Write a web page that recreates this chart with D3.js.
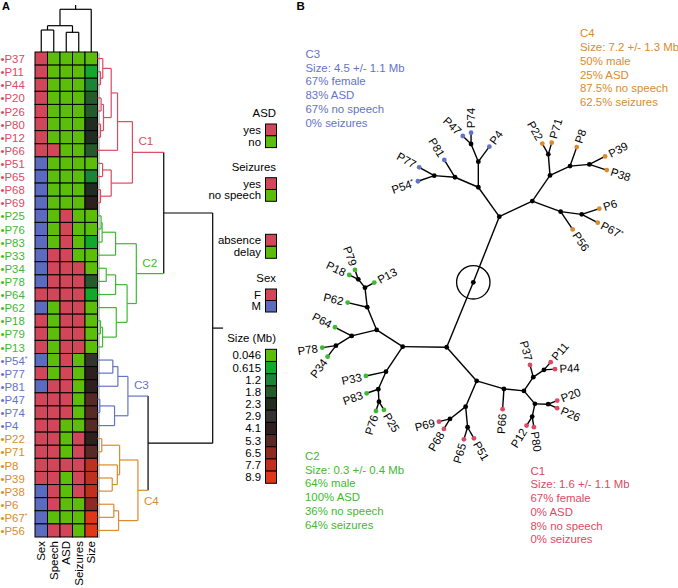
<!DOCTYPE html>
<html><head><meta charset="utf-8">
<script src="https://cdn.jsdelivr.net/npm/d3@7"></script>
<style>body{margin:0;background:#fff}svg{display:block}text{font-family:"Liberation Sans",Arial,Helvetica,sans-serif}</style>
</head><body><svg id="c" width="678" height="588"></svg>
<script>
// ---------------- DATA ----------------
const patients = ["P37","P11","P44","P20","P26","P80","P12","P66","P51","P65","P68","P69",
  "P25","P76","P83","P33","P34","P78","P64","P62","P18","P79","P13",
  "P54*","P77","P81","P47","P74","P4",
  "P22","P71","P8","P39","P38","P6","P67*","P56"];
const clusters = ["C1","C1","C1","C1","C1","C1","C1","C1","C1","C1","C1","C1",
  "C2","C2","C2","C2","C2","C2","C2","C2","C2","C2","C2",
  "C3","C3","C3","C3","C3","C3",
  "C4","C4","C4","C4","C4","C4","C4","C4"];
const sex = ["F","F","F","F","F","F","F","F","M","M","M","M",
  "M","M","M","M","M","M","F","M","F","F","F",
  "M","F","M","F","F","F",
  "F","F","F","F","M","M","M","M"];
const speech = ["delay","delay","delay","delay","delay","delay","delay","absence","delay","delay","delay","delay",
  "delay","delay","delay","absence","absence","absence","absence","delay","delay","delay","delay",
  "delay","delay","absence","absence","absence","absence",
  "absence","absence","absence","absence","absence","absence","delay","absence"];
const asd = ["no","no","no","no","no","no","no","no","no","no","no","no",
  "yes","yes","yes","yes","yes","yes","yes","yes","yes","yes","yes",
  "yes","yes","yes","yes","yes","no",
  "no","no","yes","no","no","no","no","yes"];
const seizures = ["no","no","no","no","no","no","no","no","no","no","no","no",
  "no","no","no","no","yes","yes","yes","yes","yes","yes","yes",
  "no","no","no","no","no","no",
  "yes","yes","yes","yes","yes","no","no","no"];
const sizeMb = [0.046,0.615,1.2,1.8,1.8,2.3,2.3,1.8,0.046,1.2,2.3,4.1,
  0.046,0.046,0.615,0.046,0.046,1.8,0.615,0.046,0.046,0.046,0.046,
  2.9,4.1,4.1,5.3,5.3,5.3,
  4.1,5.3,7.7,7.7,7.7,6.5,8.9,8.9];
const columns = ["Sex","Speech","ASD","Seizures","Size"];
const sizeTicks = [0.046,0.615,1.2,1.8,2.3,2.9,4.1,5.3,6.5,7.7,8.9];
const sizeColors = ["#5cbd0b","#12a82a","#1c8434","#255a2a","#202d20","#333333","#2f2020","#572a26","#8e2a22","#c0301f","#e0371a"];
const clusterNames = ["C1","C2","C3","C4"];
const clusterColors = ["#dc4a62","#3fb833","#6273c9","#da8b2d"];
const RED = "#d24659", GREEN = "#5cbd0b", BLUE = "#5b6bc0";

// hierarchical clustering of patients: [height, left, right]
const treeC1 = [0.303, [0.174, [0.119, [0.046, "P37", [0.026, "P11", "P44"]], [0.052, [0.031, "P20", "P26"], [0.026, "P80", "P12"]]], "P66"], [0.119, [0.044, "P51", "P65"], [0.026, "P68", "P69"]]];
const treeC2 = [0.337, [0.157, [0.040, [0.031, "P25", "P76"], "P83"], "P33"], [0.257, [0.157, [0.076, "P34", "P78"], "P64"], [0.163, "P62", [0.044, [0.026, "P18", "P79"], "P13"]]]];
const treeC3 = [0.264, [0.177, [0.133, "P54*", "P77"], "P81"], [0.148, [0.020, "P47", "P74"], "P4"]];
const treeC4 = [0.351, [0.192, [0.037, "P22", "P71"], [0.172, "P8", [0.128, "P39", "P38"]]], [0.183, [0.142, "P6", "P67*"], "P56"]];
const rowTree = [1.0, [0.575, treeC1, treeC2], [0.439, treeC3, treeC4]];
// clustering of the variables
const colTree = [1.0, [0.616, [0.515, "Sex", "Speech"], [0.461, "ASD", "Seizures"]], "Size"];

// legend
const legASD = ["yes","no"], legSeiz = ["yes","no speech"], legSpeech = ["absence","delay"], legSex = ["F","M"];

// cluster summaries
const summaryC1 = ["C1","Size: 1.6 +/- 1.1 Mb","67% female","0% ASD","8% no speech","0% seizures"];
const summaryC2 = ["C2","Size: 0.3 +/- 0.4 Mb","64% male","100% ASD","36% no speech","64% seizures"];
const summaryC3 = ["C3","Size: 4.5 +/- 1.1 Mb","67% female","83% ASD","67% no speech","0% seizures"];
const summaryC4 = ["C4","Size: 7.2 +/- 1.3 Mb","50% male","25% ASD","87.5% no speech","62.5% seizures"];

// unrooted tree (panel B): [parent, child, branch length, branch angle (deg)]
const treeEdges = [
 ["root","U",7.06,-68.4],["root","L",7.02,112.3],
 ["U","c3",3.61,-125.5],["U","c4",3.65,-25.3],
 ["c3","a3",2.56,-90],["c3","b3",2.54,-156.8],
 ["a3","n4774",1.91,-112.4],["a3","P4",1.86,-53.7],
 ["n4774","P47",1.15,-136],["n4774","P74",1.13,-90],
 ["b3","P81",2.03,-121.7],["b3","n7754",2.08,-175.6],
 ["n7754","P77",1.72,-150.8],["n7754","P54*",1.72,161],
 ["c4","d4",3.12,-55.4],["c4","e4",3.03,20.5],
 ["d4","n2271",2.11,-94.6],["d4","f4",2.21,-24.9],
 ["n2271","P22",1.23,-119.3],["n2271","P71",1.22,-73.8],
 ["f4","P8",2.01,-70.6],["f4","g4",1.94,-5],
 ["g4","P39",1.76,-27],["g4","P38",1.83,18.1],
 ["e4","h4",2.12,7.3],["e4","P56",2.14,55.9],
 ["h4","P6",1.85,-17.9],["h4","P67*",1.80,27.4],
 ["L","c2",4.40,-179.2],["L","c1",4.51,48.3],
 ["c2","a2",3.09,-147.3],["c2","b2",3.01,123.7],
 ["a2","c2a",2.46,-112.5],["a2","d2",2.57,166.5],
 ["c2a","P62",2.01,-166.8],["c2a","e2",1.97,-96.7],
 ["e2","P13",1.06,-28.3],["e2","f2",1.07,-128.6],
 ["f2","P18",1.00,-154.5],["f2","P79",0.99,-109.5],
 ["d2","P64",1.88,-152.5],["d2","g2",1.85,148.3],
 ["g2","P78",1.38,171.7],["g2","P34",1.38,127],
 ["b2","P33",2.05,167.9],["b2","h2",1.92,113.6],
 ["h2","P83",1.23,161],["h2","i2",1.24,86.8],
 ["i2","P76",0.98,107.9],["i2","P25",0.97,59],
 ["c1","a1",2.84,16.3],["c1","b1",2.80,113.2],
 ["a1","P66",2.03,93.7],["a1","c1a",2.01,5.7],
 ["c1a","d1",1.66,-55.8],["c1a","e1",1.70,49.8],
 ["d1","P37",1.27,-105],["d1","f1",1.30,-34.3],
 ["f1","P11",1.02,-49],["f1","P44",1.10,-3.6],
 ["e1","g1",1.33,1.3],["e1","h1",1.30,102],
 ["g1","P20",0.97,-21.8],["g1","P26",0.98,24],
 ["h1","P12",1.06,121.9],["h1","P80",1.07,80.9],
 ["b1","i1",1.99,141.9],["b1","j1",2.07,84.5],
 ["i1","P69",1.13,166.2],["i1","P68",1.17,121],
 ["j1","P65",1.26,107.1],["j1","P51",1.27,60.2]
];
const rootMarkRadius = 1.67;

// ---------------- DRAW ----------------
const FS = 11.4;
const svg = d3.select("#c");
const clusterColor = d3.scaleOrdinal(clusterNames, clusterColors);
const patCluster = new Map(patients.map((p,i)=>[p, clusters[i]]));
const sexColor = d3.scaleOrdinal(["F","M"],[RED,BLUE]);
const ynColor = d3.scaleOrdinal(["yes","no"],[RED,GREEN]);
const spColor = d3.scaleOrdinal(["absence","delay"],[RED,GREEN]);
const szColor = d3.scaleOrdinal(sizeTicks, sizeColors);

function labelText(sel, name){
  const star = name.endsWith("*");
  sel.text(star ? name.slice(0,-1) : name);
  if (star) sel.append("tspan").attr("font-size",7).attr("dy",-3.5).text("*");
}

// panel labels
svg.append("text").attr("x",2).attr("y",9.5).attr("font-weight","bold").attr("font-size",11).text("A");
svg.append("text").attr("x",296.5).attr("y",10.2).attr("font-weight","bold").attr("font-size",11.5).text("B");

// heatmap
const hx = d3.scaleBand().domain(columns).range([35, 97.5]);
const hy = d3.scaleBand().domain(patients).range([52, 537]);
svg.append("rect").attr("x",97.5).attr("y",53).attr("width",2.5).attr("height",485).attr("fill","#c8c8c8");
const cells = [];
patients.forEach((p,i)=>{
  cells.push({p, c:"Sex", col: sexColor(sex[i])});
  cells.push({p, c:"Speech", col: spColor(speech[i])});
  cells.push({p, c:"ASD", col: ynColor(asd[i])});
  cells.push({p, c:"Seizures", col: ynColor(seizures[i])});
  cells.push({p, c:"Size", col: szColor(sizeMb[i])});
});
svg.append("g").selectAll("rect").data(cells).join("rect")
  .attr("x", d=>hx(d.c)).attr("y", d=>hy(d.p))
  .attr("width", hx.bandwidth()).attr("height", hy.bandwidth())
  .attr("fill", d=>d.col).attr("stroke","#000").attr("stroke-width",1);

// row labels
svg.append("g").selectAll("text").data(patients).join("text")
  .attr("x",0.5).attr("y", d=>hy(d)+hy.bandwidth()/2+4.6)
  .attr("font-size",FS).attr("fill", d=>clusterColor(patCluster.get(d)))
  .each(function(d){ labelText(d3.select(this), "\u2022"+d); });

// column labels
svg.append("g").selectAll("text").data(columns).join("text")
  .attr("transform", d=>`translate(${hx(d)+hx.bandwidth()/2+4},541) rotate(-90)`)
  .attr("text-anchor","end").attr("font-size",FS+0.1).text(d=>d);

// row dendrogram
const dx = d3.scaleLinear().domain([0,1]).range([97.5, 212.7]);
function build(node, pos){
  if (typeof node === "string") return {name:node, h:0, y:pos(node), leaves:[node]};
  const [h,a,b] = node; const ca = build(a,pos), cb = build(b,pos);
  return {h, y:(ca.y+cb.y)/2, children:[ca,cb], leaves:ca.leaves.concat(cb.leaves)};
}
function nodeColor(n){
  const s = new Set(n.leaves.map(l=>patCluster.get(l)));
  return s.size===1 ? clusterColor([...s][0]) : "#000";
}
const rroot = build(rowTree, p=>hy(p)+hy.bandwidth()/2);
const gd = svg.append("g").attr("fill","none").attr("stroke-width",1.2);
const clusterNodes = [];
(function drawRow(n, parentMixed){
  if (!n.children) return;
  const col = nodeColor(n);
  const mixed = col==="#000";
  if (!mixed && parentMixed) clusterNodes.push(n);
  gd.append("line").attr("x1",dx(n.h)).attr("x2",dx(n.h)).attr("y1",n.children[0].y).attr("y2",n.children[1].y).attr("stroke",col);
  n.children.forEach(c=>{
    gd.append("line").attr("x1",dx(c.h)).attr("x2",dx(n.h)).attr("y1",c.y).attr("y2",c.y).attr("stroke",nodeColor(c));
    drawRow(c, mixed);
  });
})(rroot, true);
gd.append("line").attr("x1",dx(1)).attr("x2",dx(1.09)).attr("y1",rroot.y).attr("y2",rroot.y).attr("stroke","#000");
clusterNodes.forEach(n=>{
  const cname = patCluster.get(n.leaves[0]);
  const below = cname==="C4";
  svg.append("text").attr("x",dx(n.h)+6).attr("y", n.y + (below? 11:-11)).attr("dy","0.35em")
    .attr("font-size",FS+0.3).attr("fill",clusterColor(cname)).text(cname);
});

// column dendrogram
const dy = d3.scaleLinear().domain([0,1]).range([52, 9.3]);
const croot = build(colTree, c=>hx(c)+hx.bandwidth()/2);
const gc = svg.append("g").attr("fill","none").attr("stroke","#000").attr("stroke-width",1.2);
(function drawCol(n){
  if (!n.children) return;
  gc.append("line").attr("y1",dy(n.h)).attr("y2",dy(n.h)).attr("x1",n.children[0].y).attr("x2",n.children[1].y);
  n.children.forEach(c=>{
    gc.append("line").attr("x1",c.y).attr("x2",c.y).attr("y1",dy(c.h)).attr("y2",dy(n.h));
    drawCol(c);
  });
})(croot);
gc.append("line").attr("x1",croot.y).attr("x2",croot.y).attr("y1",dy(1)).attr("y2",dy(1.1));

// legend
const lg = svg.append("g").attr("font-size",FS);
const LX = 265.5, LW = 11, TITLE_R = 276, LAB_R = 261;
function legendBlock(title, items, colors, top, rowH){
  if (title) lg.append("text").attr("x",TITLE_R).attr("y",top-11).attr("dy","0.35em").attr("text-anchor","end").text(title);
  items.forEach((it,i)=>{
    lg.append("rect").attr("x",LX).attr("y",top+i*rowH).attr("width",LW).attr("height",rowH)
      .attr("fill",colors[i]).attr("stroke","#000").attr("stroke-width",1);
    lg.append("text").attr("x",LAB_R).attr("y",top+i*rowH+rowH/2).attr("dy","0.35em").attr("text-anchor","end").text(it);
  });
}
legendBlock("ASD", legASD, legASD.map(ynColor), 124, 11.8);
legendBlock("Seizures", legSeiz, [RED,GREEN], 177.7, 11.8);
legendBlock(null, legSpeech, legSpeech.map(spColor), 234.3, 12);
legendBlock("Sex", legSex, legSex.map(sexColor), 289, 11.5);
legendBlock("Size (Mb)", sizeTicks.map(String), sizeColors, 349.3, 12.18);

// panel B: unrooted tree
const tx = d3.scaleLinear().domain([-20,20]).range([273.3, 673.3]);
const ty = d3.scaleLinear().domain([-20,20]).range([82.3, 482.3]);
const pos = new Map([["root",[0,0]]]);
const inAngle = new Map();
treeEdges.forEach(([p,c,len,ang])=>{
  const [px,py] = pos.get(p); const r = ang*Math.PI/180;
  pos.set(c, [px+len*Math.cos(r), py+len*Math.sin(r)]);
  inAngle.set(c, ang);
});
const gt = svg.append("g");
gt.selectAll("line").data(treeEdges).join("line")
  .attr("x1",d=>tx(pos.get(d[0])[0])).attr("y1",d=>ty(pos.get(d[0])[1]))
  .attr("x2",d=>tx(pos.get(d[1])[0])).attr("y2",d=>ty(pos.get(d[1])[1]))
  .attr("stroke","#000").attr("stroke-width",1.4);
gt.append("circle").attr("cx",tx(0)).attr("cy",ty(0)).attr("r",tx(rootMarkRadius)-tx(0))
  .attr("fill","none").attr("stroke","#000").attr("stroke-width",1.3);
const allNodes = [...pos.keys()];
gt.selectAll("circle.n").data(allNodes).join("circle").attr("class","n")
  .attr("cx",d=>tx(pos.get(d)[0])).attr("cy",d=>ty(pos.get(d)[1])).attr("r",2.4)
  .attr("fill",d=>patCluster.has(d)? clusterColor(patCluster.get(d)) : "#000");
const leaves = allNodes.filter(d=>patCluster.has(d));
gt.selectAll("text").data(leaves).join("text")
  .attr("font-size",FS)
  .attr("transform",d=>{
    const a = inAngle.get(d), r=a*Math.PI/180, off=4.5;
    const x = tx(pos.get(d)[0])+off*Math.cos(r), y = ty(pos.get(d)[1])+off*Math.sin(r);
    const rot = Math.abs(a)>90 ? (a>0? a-180 : a+180) : a;
    return `translate(${x},${y}) rotate(${rot})`;
  })
  .attr("text-anchor",d=>Math.abs(inAngle.get(d))>90?"end":"start")
  .attr("dy","0.35em")
  .each(function(d){ labelText(d3.select(this), d); });

// cluster summaries
function summary(lines, cname, x, y0){
  svg.append("g").selectAll("text").data(lines).join("text")
    .attr("x",x).attr("y",(d,i)=>y0+i*13.75).attr("dy","0.35em")
    .attr("font-size",FS).attr("fill",clusterColor(cname)).text(d=>d);
}
summary(summaryC3,"C3",305.5,54);
summary(summaryC4,"C4",580,33.3);
summary(summaryC2,"C2",305,456);
summary(summaryC1,"C1",530.5,470.7);
</script></body></html>
